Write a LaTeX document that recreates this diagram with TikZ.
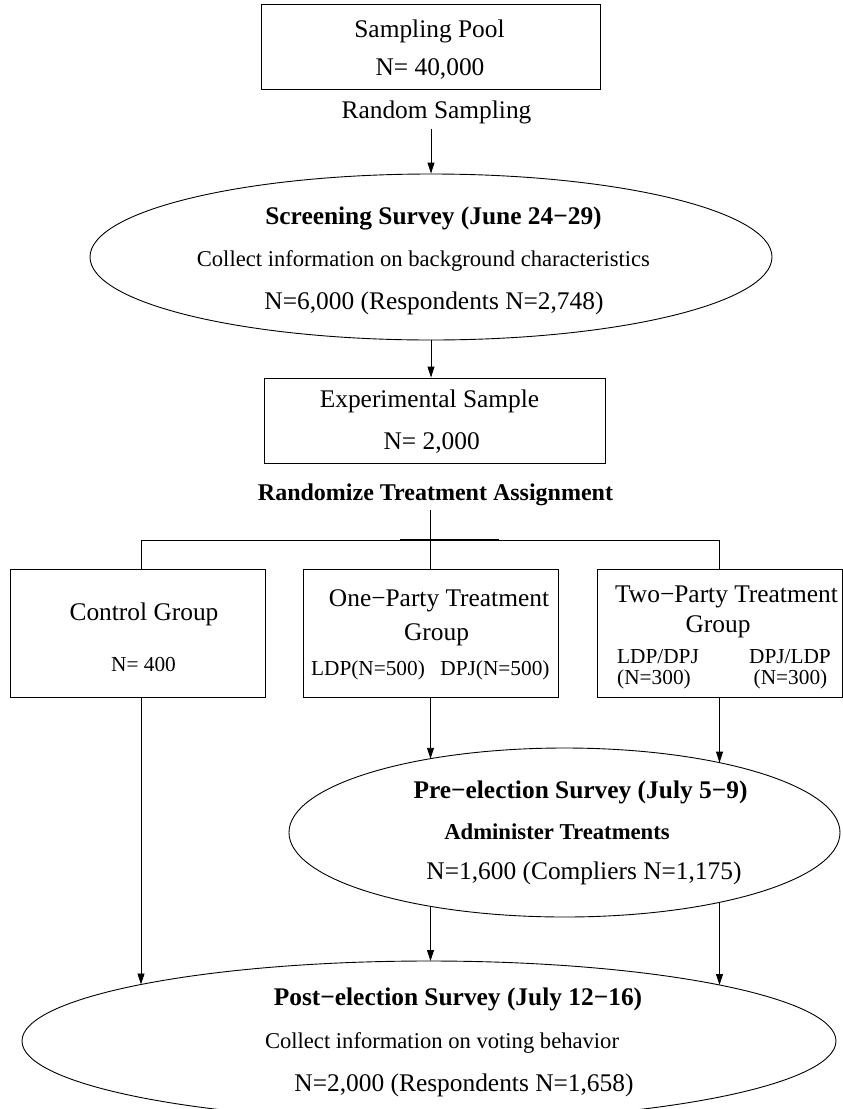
\documentclass[tikz,border=0pt]{standalone}
\usepackage{fontspec}
\setmainfont{Liberation Serif}
\usetikzlibrary{shapes.geometric,arrows.meta}
\begin{document}
\begin{tikzpicture}[x=1pt,y=-1pt,line width=0.9pt,
  boxst/.style={draw,rectangle,inner sep=0pt},
  ellst/.style={draw,ellipse,inner sep=0pt},
  arr/.style={-{Triangle[length=11pt,width=7pt]}},
  bigtxt/.style={font=\fontsize{25.4}{30}\selectfont,inner sep=2pt},
  bigbold/.style={font=\fontsize{25.4}{30}\selectfont\bfseries,inner sep=2pt},
  medtxt/.style={font=\fontsize{22.6}{27}\selectfont,inner sep=2pt},
  medbold/.style={font=\fontsize{22.7}{27}\selectfont\bfseries,inner sep=2pt},
  rbold/.style={font=\fontsize{24}{29}\selectfont\bfseries,inner sep=2pt},
  smalltxt/.style={font=\fontsize{21.3}{25}\selectfont,inner sep=2pt}]
\useasboundingbox (0,0) rectangle (843,1109);
% shapes
\node[boxst,minimum width=339pt,minimum height=85pt] (pool) at (430.5,46.5) {};
\node[ellst,minimum width=682pt,minimum height=166pt] (scr) at (431,257) {};
\node[boxst,minimum width=340.5pt,minimum height=85pt] (exp) at (434.75,420.5) {};
\node[boxst,minimum width=255pt,minimum height=128pt] (ctl) at (137.5,633) {};
\node[boxst,minimum width=255pt,minimum height=128pt] (one) at (430.5,633) {};
\node[boxst,minimum width=245pt,minimum height=128pt] (two) at (719.5,633) {};
\node[ellst,minimum width=551pt,minimum height=169pt] (pre) at (564.5,832.5) {};
\node[ellst,minimum width=814pt,minimum height=160pt] (post) at (429,1041) {};
% texts
\node[bigtxt] (t1) at (429.5,31) {Sampling Pool};
\node[bigtxt] (t2) at (430,69) {N= 40,000};
\node[bigtxt] (rs) at (436.5,112) {Random Sampling};
\node[bigbold] (t3) at (433.5,218) {Screening Survey (June 24−29)};
\node[medtxt] (t4) at (423.4,261) {Collect information on background characteristics};
\node[bigtxt] (t5) at (434,303) {N=6,000 (Respondents N=2,748)};
\node[bigtxt] (t6) at (429.5,401) {Experimental Sample};
\node[bigtxt] (t7) at (431.7,443) {N= 2,000};
\node[rbold] (rta) at (435.5,495) {Randomize Treatment Assignment};
\node[bigtxt] (t8) at (144,614) {Control Group};
\node[smalltxt] (t9) at (143.5,665) {N= 400};
\node[bigtxt] (t10) at (439,601) {One−Party Treatment};
\node[bigtxt] (t11) at (436.6,635) {Group};
\node[smalltxt] (t12) at (368,670) {LDP(N=500)};
\node[smalltxt] (t13) at (495,670) {DPJ(N=500)};
\node[bigtxt] (t14) at (726.5,597) {Two−Party Treatment};
\node[bigtxt] (t15) at (718,627) {Group};
\node[smalltxt] (t16) at (658,657) {LDP/DPJ};
\node[smalltxt] (t17) at (790,657) {DPJ/LDP};
\node[smalltxt] (t18) at (654,679) {(N=300)};
\node[smalltxt] (t19) at (790.5,679) {(N=300)};
\node[bigbold] (t20) at (580.5,792) {Pre−election Survey (July 5−9)};
\node[medbold] (t21) at (557,832) {Administer Treatments};
\node[bigtxt] (t22) at (584,873) {N=1,600 (Compliers N=1,175)};
\node[bigbold] (t23) at (458,999) {Post−election Survey (July 12−16)};
\node[medtxt] (t24) at (442,1043) {Collect information on voting behavior};
\node[bigtxt] (t25) at (464,1085) {N=2,000 (Respondents N=1,658)};
% coordinates
\coordinate (hl) at (141,540);
\coordinate (hr) at (719.5,540);
\coordinate (preA) at (430.5,758.8);
\coordinate (preB) at (719.5,762.6);
\coordinate (preC) at (430.5,906.2);
\coordinate (preD) at (719.5,902.4);
\coordinate (postA) at (141,984.5);
\coordinate (postB) at (430.5,961);
\coordinate (postC) at (719.5,985);
% connectors
\draw[arr,shorten <=3pt] (rs.south -| scr.north) -- (scr.north);
\draw[arr] (scr.south) -- (scr.south |- exp.north);
\draw[shorten <=2pt] (rta.south -| one.north) -- (one.north);
\draw (hl) -- (hr);
\draw[line width=1.3pt] (400,540) -- (499,540);
\draw (hl) -- (hl |- ctl.north);
\draw (hr) -- (two.north);
\draw[arr] (ctl.south -| hl) -- (postA);
\draw[arr] (one.south) -- (preA);
\draw[arr] (two.south) -- (preB);
\draw[arr] (preC) -- (postB);
\draw[arr] (preD) -- (postC);
\end{tikzpicture}
\end{document}
